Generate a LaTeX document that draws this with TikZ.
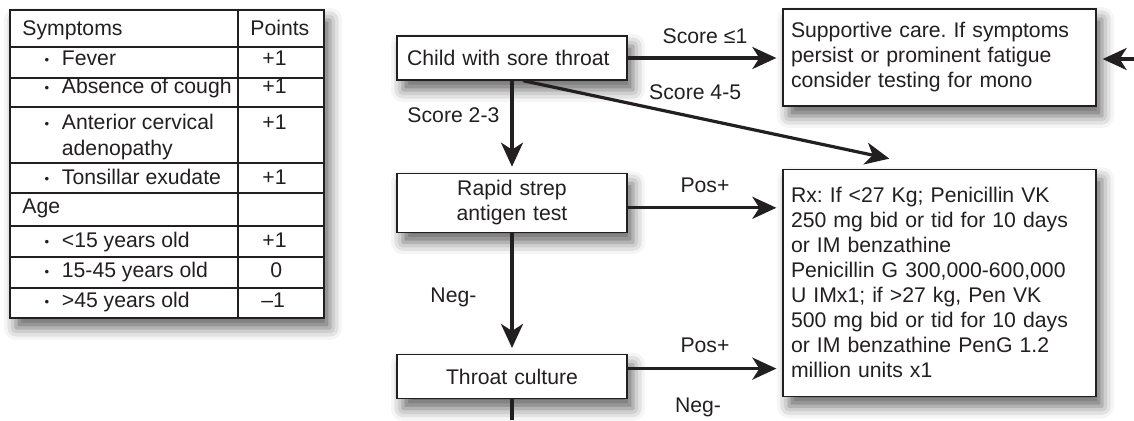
\documentclass[tikz,border=0pt]{standalone}
\usepackage{fontspec}
\setmainfont{Liberation Sans}
\usepackage{graphicx}
\usetikzlibrary{arrows.meta, positioning, calc, shadows.blur}
\definecolor{ink}{HTML}{231F20}
\frenchspacing
\newcommand{\bul}{\raisebox{0.4pt}{\scalebox{0.62}{•}}}
\tikzset{
  txt/.style  = {font=\fontsize{10.6}{12.5}\selectfont, text=ink},
  shd/.style  = {blur shadow={shadow xshift=3pt, shadow yshift=-5pt,
                 shadow blur radius=6pt, shadow opacity=60}},
  box/.style  = {rectangle, draw=ink, line width=0.65pt, fill=white, shd, txt,
                 text width=105pt, inner xsep=5pt, minimum height=22pt,
                 align=center},
  note/.style = {box, text width=148.5pt, inner xsep=4pt, align=left},
  arr/.style  = {-{Stealth[length=12pt, width=11pt, inset=3.5pt]},
                 line width=1.6pt, draw=ink, shorten >=3pt},
  lne/.style  = {line width=1.6pt, draw=ink},
  grid/.style = {line width=0.65pt, draw=ink},
  lbl/.style  = {txt, inner sep=2pt},
  cell/.style = {txt, inner sep=0pt, anchor=base west},
}

\begin{document}
\begin{tikzpicture}[x=0.5pt, y=-0.5pt]
  \useasboundingbox (0,0) rectangle (1134,420);

  % score table
  \draw[grid, fill=white, shd] (10,10) rectangle (324,318);
  \draw[grid] (238,10) -- (238,318);
  \foreach \y in {47,78,107,163,193,226,257,288}
    \draw[grid] (10,\y) -- (324,\y);

  \node[cell] (hsym) at (22,35)  {Symptoms};
  \node[cell] (hpts) at (250,35) {Points};
  \node[cell] (hage) at (22,213) {Age};
  \foreach \n/\y/\t in {fev/65/Fever, cgh/93/Absence of cough,
                        ant/129/Anterior cervical, ton/184/Tonsillar exudate,
                        yng/247/<15 years old, mid/277/15-45 years old,
                        old/307/>45 years old} {
    \node[txt, inner sep=0pt, anchor=base] (b\n) at (47,\y) {\bul};
    \node[cell] (s\n) at (61.5,\y) {\t};
  }
  \node[cell] (sade) at (61.5,155) {adenopathy};
  \foreach \n/\y in {fev/65, cgh/93, ant/129, ton/184, yng/247}
    \node[cell] (p\n) at (262,\y) {+1};
  \node[cell] (pmid) at (270,277) {0};
  \node[cell] (pold) at (261,307) {–1};

  % flow
  \node[box, align=left]             (child)  at (512,58) {Child with sore throat};
  \node[box, below=46pt of child, minimum height=29.5pt] (rapid) {Rapid strep\\antigen test};
  \node[box, below=60.5pt of rapid]  (throat) {Throat culture};
  \node[note, minimum height=48.5pt] (supp)   at (939.5,57.5)
    {Supportive care. If symptoms\\persist or prominent fatigue\\consider testing for mono};
  \node[note, below=31pt of supp, minimum height=113.5pt] (rx)
    {Rx: If <27 Kg; Penicillin VK\\250 mg bid or tid for 10 days\\or IM benzathine\\
     Penicillin G 300,000-600,000\\U IMx1; if >27 kg, Pen VK\\500 mg bid or tid for 10 days\\
     or IM benzathine PenG 1.2\\million units x1};

  \coordinate (d1)  at ([xshift=5.5pt]child.south);
  \coordinate (d2)  at ([xshift=53.5pt, yshift=5pt]rx.north west);
  \coordinate (p1)  at ([yshift=-2.5pt]rapid.east);
  \coordinate (p2)  at ([yshift=4pt]throat.east);
  \coordinate (rin) at (1134,59);
  \coordinate (cut) at (512,420);

  \draw[arr] (child) -- node[lbl, above=4.5pt]{Score ≤1} (child -| supp.west);
  \draw[arr, shorten >=0pt] (d1) -- node[lbl, above=6pt, pos=0.47]{Score 4-5} (d2);
  \draw[arr] (child) -- node[lbl, left=3.5pt, pos=0.38]{Score 2-3} (rapid);
  \draw[arr] (p1) -- node[lbl, above=5pt]{Pos+} (p1 -| rx.west);
  \draw[arr] (rapid) -- node[lbl, left=15pt, pos=0.53]{Neg-} (throat);
  \draw[arr] (p2) -- node[lbl, above=5pt]{Pos+} (p2 -| rx.west);
  \draw[arr] (rin) -- (rin -| supp.east);
  \draw[lne] (throat) -- (throat |- cut);
  \node[txt, inner sep=0pt, anchor=base] (neg2) at (698,412) {Neg-};

\end{tikzpicture}
\end{document}
